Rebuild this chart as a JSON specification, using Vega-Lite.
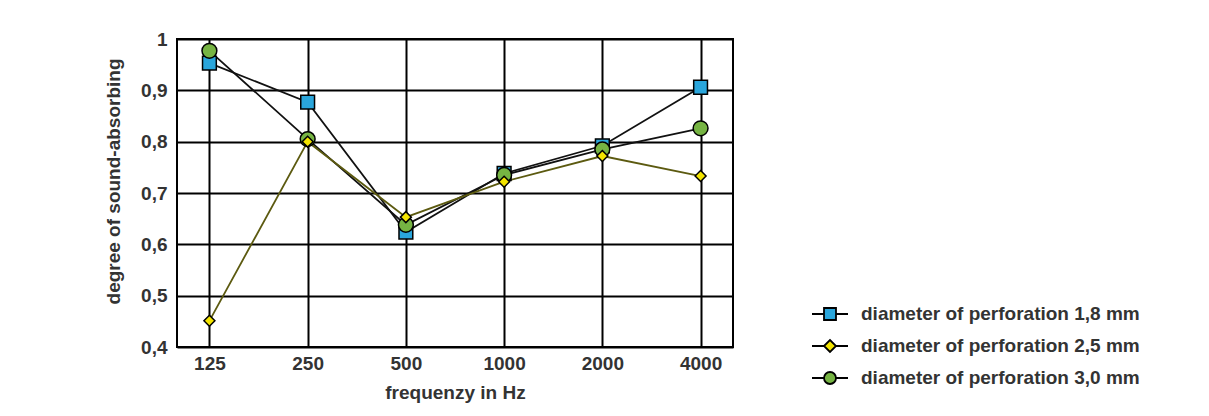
{
  "$schema": "https://vega.github.io/schema/vega-lite/v6.json",
  "autosize": "none",
  "width": 556,
  "height": 308,
  "padding": {"left": 177, "top": 39, "right": 476, "bottom": 69},
  "background": "white",
  "config": {
    "font": "Liberation Sans",
    "view": {"stroke": "black", "strokeWidth": 2},
    "axis": {
      "labelFont": "Liberation Sans",
      "labelFontSize": 19,
      "labelFontWeight": "bold",
      "labelColor": "#333",
      "titleFont": "Liberation Sans",
      "titleFontSize": 19,
      "titleFontWeight": "bold",
      "titleColor": "#333",
      "gridColor": "black",
      "gridWidth": 2,
      "gridOpacity": 1,
      "ticks": false,
      "domain": false
    }
  },
  "data": {
    "values": [
      {"freq": "125", "series": "diameter of perforation 1,8 mm", "value": 0.953},
      {"freq": "250", "series": "diameter of perforation 1,8 mm", "value": 0.877},
      {"freq": "500", "series": "diameter of perforation 1,8 mm", "value": 0.624},
      {"freq": "1000", "series": "diameter of perforation 1,8 mm", "value": 0.738},
      {"freq": "2000", "series": "diameter of perforation 1,8 mm", "value": 0.792},
      {"freq": "4000", "series": "diameter of perforation 1,8 mm", "value": 0.906},
      {"freq": "125", "series": "diameter of perforation 3,0 mm", "value": 0.977},
      {"freq": "250", "series": "diameter of perforation 3,0 mm", "value": 0.805},
      {"freq": "500", "series": "diameter of perforation 3,0 mm", "value": 0.638},
      {"freq": "1000", "series": "diameter of perforation 3,0 mm", "value": 0.735},
      {"freq": "2000", "series": "diameter of perforation 3,0 mm", "value": 0.785},
      {"freq": "4000", "series": "diameter of perforation 3,0 mm", "value": 0.826},
      {"freq": "125", "series": "diameter of perforation 2,5 mm", "value": 0.451},
      {"freq": "250", "series": "diameter of perforation 2,5 mm", "value": 0.800},
      {"freq": "500", "series": "diameter of perforation 2,5 mm", "value": 0.653},
      {"freq": "1000", "series": "diameter of perforation 2,5 mm", "value": 0.722},
      {"freq": "2000", "series": "diameter of perforation 2,5 mm", "value": 0.772},
      {"freq": "4000", "series": "diameter of perforation 2,5 mm", "value": 0.733}
    ]
  },
  "encoding": {
    "x": {
      "field": "freq",
      "type": "ordinal",
      "sort": ["125", "250", "500", "1000", "2000", "4000"],
      "scale": {"type": "point", "padding": 0.33},
      "axis": {"title": "frequenzy in Hz", "labelAngle": 0, "labelPadding": 7, "titlePadding": 10, "grid": true}
    },
    "y": {
      "field": "value",
      "type": "quantitative",
      "scale": {"domain": [0.4, 1], "nice": false, "zero": false},
      "axis": {
        "title": "degree of sound-absorbing",
        "values": [0.4, 0.5, 0.6, 0.7, 0.8, 0.9, 1],
        "labelExpr": "datum.value == 1 ? '1' : replace(format(datum.value, '.1f'), '.', ',')",
        "labelPadding": 10,
        "titlePadding": 17,
        "titleY": 142,
        "grid": true
      }
    }
  },
  "layer": [
    {
      "transform": [{"filter": "datum.series != 'diameter of perforation 2,5 mm'"}],
      "mark": {"type": "line", "strokeWidth": 1.8, "color": "#111111"},
      "encoding": {"detail": {"field": "series"}}
    },
    {
      "transform": [{"filter": "datum.series == 'diameter of perforation 2,5 mm'"}],
      "mark": {"type": "line", "strokeWidth": 1.8, "color": "#5c5a10"},
      "encoding": {"detail": {"field": "series"}}
    },
    {
      "transform": [{"filter": "datum.series == 'diameter of perforation 1,8 mm'"}],
      "mark": {"type": "point", "shape": "square", "size": 190, "filled": true, "stroke": "black", "strokeWidth": 1.5, "opacity": 1},
      "encoding": {
        "fill": {
          "field": "series",
          "type": "nominal",
          "title": null,
          "scale": {
            "domain": ["diameter of perforation 1,8 mm", "diameter of perforation 2,5 mm", "diameter of perforation 3,0 mm"],
            "range": ["#2aa6dc", "#f3e400", "#76b443"]
          }
        }
      }
    },
    {
      "transform": [{"filter": "datum.series == 'diameter of perforation 3,0 mm'"}],
      "mark": {"type": "point", "shape": "circle", "size": 220, "filled": true, "stroke": "black", "strokeWidth": 1.5, "opacity": 1},
      "encoding": {
        "fill": {"field": "series", "type": "nominal", "title": null}
      }
    },
    {
      "transform": [{"filter": "datum.series == 'diameter of perforation 2,5 mm'"}],
      "mark": {"type": "point", "shape": "diamond", "size": 120, "filled": true, "stroke": "black", "strokeWidth": 1.5, "opacity": 1},
      "encoding": {
        "fill": {"field": "series", "type": "nominal", "title": null}
      }
    },
    {
      "transform": [{"filter": "datum.value > 10"}],
      "mark": {"type": "point", "filled": true, "stroke": "black", "strokeWidth": 1.8, "opacity": 1},
      "encoding": {
        "fill": {
          "field": "series",
          "type": "nominal",
          "title": null,
          "legend": {
            "title": null,
            "orient": "none",
            "legendX": 637,
            "legendY": 259,
            "symbolSize": 900,
            "symbolStrokeColor": "black",
            "symbolStrokeWidth": 1.8,
            "symbolOpacity": 1,
            "labelFont": "Liberation Sans",
            "labelFontSize": 19,
            "labelFontWeight": "bold",
            "labelColor": "#333",
            "labelOffset": 15,
            "rowPadding": 6,
            "labelLimit": 500
          }
        },
        "shape": {
          "field": "series",
          "type": "nominal",
          "title": null,
          "scale": {
            "domain": ["diameter of perforation 1,8 mm", "diameter of perforation 2,5 mm", "diameter of perforation 3,0 mm"],
            "range": [
              "M-1.2,0H-0.4M0.4,0H1.2M-0.4,-0.4H0.4V0.4H-0.4Z",
              "M-1.2,0H-0.4M0.4,0H1.2M-0.4,0L0,-0.4L0.4,0L0,0.4Z",
              "M-1.2,0H-0.4M0.4,0H1.2M-0.4,0A0.4,0.4,0,1,0,0.4,0A0.4,0.4,0,1,0,-0.4,0Z"
            ]
          },
          "legend": {
            "title": null,
            "orient": "none",
            "legendX": 637,
            "legendY": 259,
            "symbolSize": 900,
            "symbolStrokeColor": "black",
            "symbolStrokeWidth": 1.8,
            "symbolOpacity": 1,
            "labelFont": "Liberation Sans",
            "labelFontSize": 19,
            "labelFontWeight": "bold",
            "labelColor": "#333",
            "labelOffset": 15,
            "rowPadding": 6,
            "labelLimit": 500
          }
        }
      }
    }
  ]
}
